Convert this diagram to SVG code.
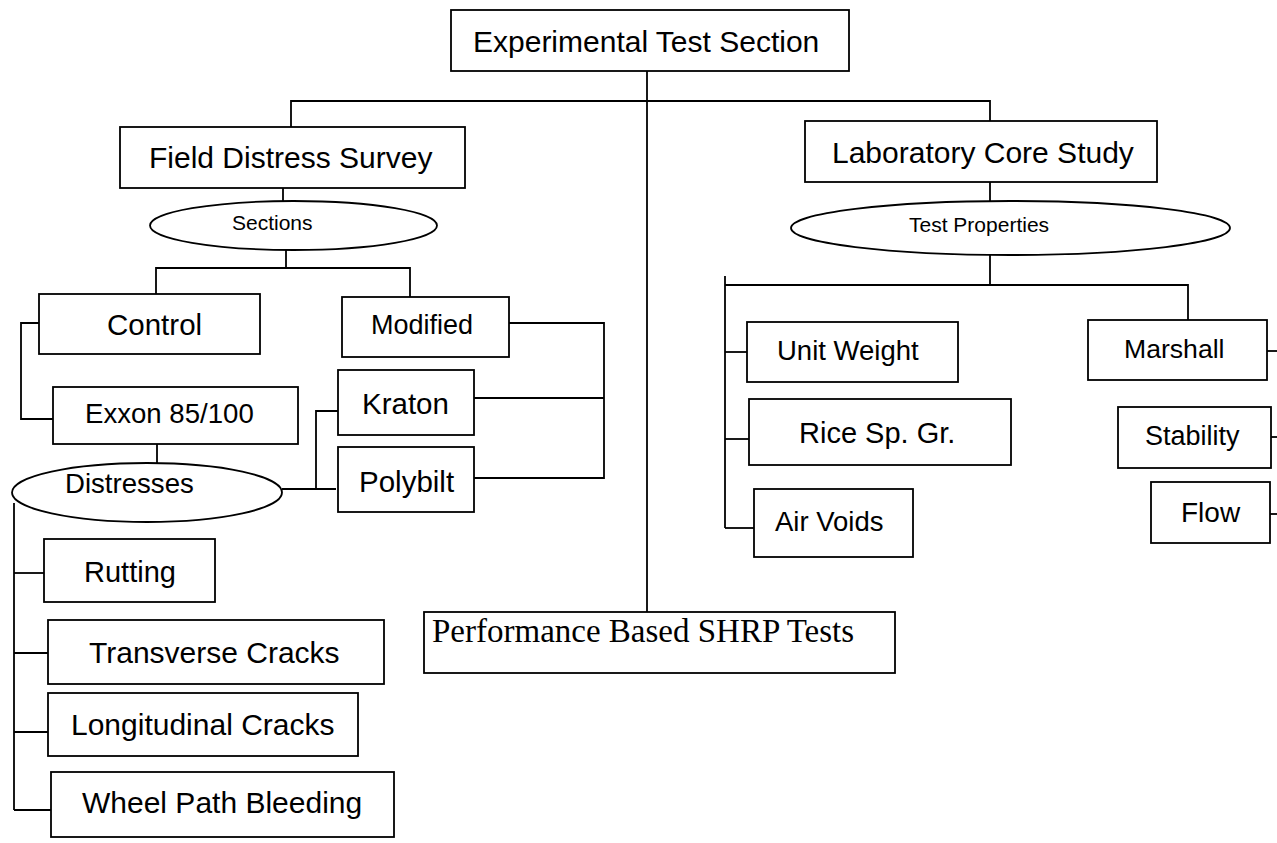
<svg xmlns="http://www.w3.org/2000/svg" width="1277" height="843" viewBox="0 0 1277 843">
  <style>
    .box { fill: #ffffff; stroke: #000000; stroke-width: 1.8; }
    .oval { fill: #ffffff; stroke: #000000; stroke-width: 1.8; }
    .wire { fill: none; stroke: #000000; stroke-width: 1.8; }
    .lbl { font-family: "Liberation Sans", Arial, sans-serif; fill: #000000; }
    .serif { font-family: "Liberation Serif", "Times New Roman", serif; fill: #000000; }
  </style>
  <rect width="1277" height="843" fill="#ffffff"/>

  <!-- connectors -->
  <g id="connectors" class="wire">
    <!-- trunk from the root down to the SHRP tests -->
    <path d="M647 71 V612"/>
    <path d="M291 127 V101 H990 V122"/>
    <!-- field survey branch -->
    <path d="M283 188 V201"/>
    <path d="M286 250 V268"/>
    <path d="M156 294 V268 H410 V297"/>
    <path d="M45 323 H21 V419 H61"/>
    <path d="M157 444 V463"/>
    <path d="M282 489 H336"/>
    <path d="M316 489 V411 H347"/>
    <path d="M498 323 H604 V478 H469"/>
    <path d="M465 398 H604"/>
    <!-- distress list -->
    <path d="M14 503 V810"/>
    <path d="M14 573 H44"/>
    <path d="M14 653 H48"/>
    <path d="M14 732 H48"/>
    <path d="M14 810 H51"/>
    <!-- laboratory branch -->
    <path d="M990 182 V201"/>
    <path d="M990 255 V285"/>
    <path d="M725 276 V528"/>
    <path d="M725 285 H1188 V320"/>
    <path d="M725 352 H747"/>
    <path d="M725 439 H749"/>
    <path d="M725 528 H754"/>
    <path d="M1264 351 H1277"/>
    <path d="M1271 437 H1277"/>
    <path d="M1254 514 H1277"/>
  </g>

  <g id="experimental-test-section">
    <rect class="box" x="451" y="10" width="398" height="61"/>
    <text class="lbl" x="473" y="52" font-size="30">Experimental Test Section</text>
  </g>

  <g id="field-distress-survey">
    <rect class="box" x="120" y="127" width="345" height="61"/>
    <text class="lbl" x="149" y="168" font-size="30">Field Distress Survey</text>
  </g>

  <g id="sections">
    <ellipse class="oval" cx="293.5" cy="225.5" rx="143.5" ry="24.5"/>
    <text class="lbl" x="232" y="230" font-size="21">Sections</text>
  </g>

  <g id="control">
    <rect class="box" x="39" y="294" width="221" height="60"/>
    <text class="lbl" x="107" y="335" font-size="29.5">Control</text>
  </g>

  <g id="modified">
    <rect class="box" x="342" y="297" width="167" height="60"/>
    <text class="lbl" x="371" y="334" font-size="27">Modified</text>
  </g>

  <g id="exxon">
    <rect class="box" x="53" y="387" width="245" height="57"/>
    <text class="lbl" x="85" y="423" font-size="27.6">Exxon 85/100</text>
  </g>

  <g id="kraton">
    <rect class="box" x="338" y="370" width="136" height="65"/>
    <text class="lbl" x="362" y="414" font-size="29.5">Kraton</text>
  </g>

  <g id="polybilt">
    <rect class="box" x="338" y="447" width="136" height="65"/>
    <text class="lbl" x="359" y="492" font-size="29.5">Polybilt</text>
  </g>

  <g id="distresses">
    <ellipse class="oval" cx="147" cy="492.5" rx="135" ry="29.5"/>
    <text class="lbl" x="65" y="493" font-size="27.6">Distresses</text>
  </g>

  <g id="rutting">
    <rect class="box" x="44" y="539" width="171" height="63"/>
    <text class="lbl" x="84" y="582" font-size="29">Rutting</text>
  </g>

  <g id="transverse-cracks">
    <rect class="box" x="48" y="620" width="336" height="64"/>
    <text class="lbl" x="89" y="663" font-size="30">Transverse Cracks</text>
  </g>

  <g id="longitudinal-cracks">
    <rect class="box" x="48" y="693" width="310" height="63"/>
    <text class="lbl" x="71" y="735" font-size="30">Longitudinal Cracks</text>
  </g>

  <g id="wheel-path-bleeding">
    <rect class="box" x="51" y="772" width="343" height="65"/>
    <text class="lbl" x="82" y="813" font-size="30">Wheel Path Bleeding</text>
  </g>

  <g id="shrp-tests">
    <rect class="box" x="424" y="612" width="471" height="61"/>
    <text class="serif" x="432" y="642" font-size="33">Performance Based SHRP Tests</text>
  </g>

  <g id="laboratory-core-study">
    <rect class="box" x="805" y="121" width="352" height="61"/>
    <text class="lbl" x="832" y="163" font-size="30">Laboratory Core Study</text>
  </g>

  <g id="test-properties">
    <ellipse class="oval" cx="1010.5" cy="228" rx="219.5" ry="27"/>
    <text class="lbl" x="909" y="232" font-size="21">Test Properties</text>
  </g>

  <g id="unit-weight">
    <rect class="box" x="747" y="322" width="211" height="60"/>
    <text class="lbl" x="777" y="360" font-size="27.5">Unit Weight</text>
  </g>

  <g id="rice-sp-gr">
    <rect class="box" x="749" y="399" width="262" height="66"/>
    <text class="lbl" x="799" y="443" font-size="29">Rice Sp. Gr.</text>
  </g>

  <g id="air-voids">
    <rect class="box" x="754" y="489" width="159" height="68"/>
    <text class="lbl" x="775" y="531" font-size="27.5">Air Voids</text>
  </g>

  <g id="marshall">
    <rect class="box" x="1088" y="320" width="179" height="60"/>
    <text class="lbl" x="1124" y="358" font-size="26.6">Marshall</text>
  </g>

  <g id="stability">
    <rect class="box" x="1118" y="407" width="153" height="61"/>
    <text class="lbl" x="1145" y="445" font-size="27">Stability</text>
  </g>

  <g id="flow">
    <rect class="box" x="1151" y="482" width="119" height="61"/>
    <text class="lbl" x="1181" y="522" font-size="28">Flow</text>
  </g>
</svg>
